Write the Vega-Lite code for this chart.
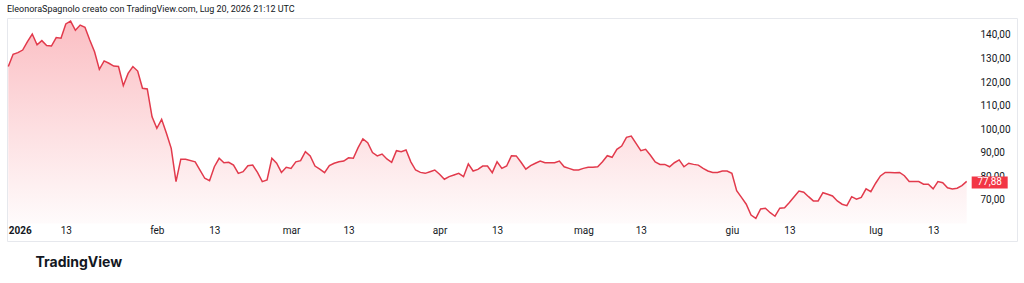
{
  "$schema": "https://vega.github.io/schema/vega-lite/v6.json",
  "width": 1010,
  "height": 223,
  "autosize": {"type": "none"},
  "padding": {"left": 7, "top": 18, "right": 7, "bottom": 42},
  "background": "#ffffff",
  "config": {
    "view": {"stroke": "#e6e8ed", "strokeWidth": 1},
    "font": "Roboto",
    "locale": {"number": {"decimal": ",", "thousands": ".", "grouping": [3], "currency": ["", " €"]}},
    "axis": {"labelOverlap": false}
  },
  "title": {
    "text": "EleonoraSpagnolo creato con TradingView.com, Lug 20, 2026 21:12 UTC",
    "anchor": "start",
    "frame": "group",
    "orient": "top",
    "offset": -5,
    "fontSize": 9,
    "fontWeight": "normal",
    "color": "#131722",
    "font": "Roboto",
    "baseline": "bottom"
  },
  "data": {
    "values": [
      {"date": "2026/01/01", "price": 126.6},
      {"date": "2026/01/02", "price": 131.8},
      {"date": "2026/01/03", "price": 132.5},
      {"date": "2026/01/04", "price": 133.6},
      {"date": "2026/01/05", "price": 137.2},
      {"date": "2026/01/06", "price": 140.4},
      {"date": "2026/01/07", "price": 135.8},
      {"date": "2026/01/08", "price": 137.6},
      {"date": "2026/01/09", "price": 135.5},
      {"date": "2026/01/10", "price": 135.3},
      {"date": "2026/01/11", "price": 138.9},
      {"date": "2026/01/12", "price": 138.6},
      {"date": "2026/01/13", "price": 144.7},
      {"date": "2026/01/14", "price": 145.9},
      {"date": "2026/01/15", "price": 142.0},
      {"date": "2026/01/16", "price": 144.2},
      {"date": "2026/01/17", "price": 143.3},
      {"date": "2026/01/18", "price": 137.9},
      {"date": "2026/01/19", "price": 132.9},
      {"date": "2026/01/20", "price": 125.4},
      {"date": "2026/01/21", "price": 129.0},
      {"date": "2026/01/22", "price": 128.0},
      {"date": "2026/01/23", "price": 126.8},
      {"date": "2026/01/24", "price": 126.6},
      {"date": "2026/01/25", "price": 118.5},
      {"date": "2026/01/26", "price": 123.7},
      {"date": "2026/01/27", "price": 126.6},
      {"date": "2026/01/28", "price": 124.7},
      {"date": "2026/01/29", "price": 117.4},
      {"date": "2026/01/30", "price": 117.1},
      {"date": "2026/01/31", "price": 105.3},
      {"date": "2026/02/01", "price": 100.4},
      {"date": "2026/02/02", "price": 104.2},
      {"date": "2026/02/03", "price": 98.3},
      {"date": "2026/02/04", "price": 91.9},
      {"date": "2026/02/05", "price": 77.8},
      {"date": "2026/02/06", "price": 87.3},
      {"date": "2026/02/07", "price": 87.3},
      {"date": "2026/02/09", "price": 86.2},
      {"date": "2026/02/10", "price": 82.7},
      {"date": "2026/02/11", "price": 79.2},
      {"date": "2026/02/12", "price": 78.2},
      {"date": "2026/02/13", "price": 84.1},
      {"date": "2026/02/14", "price": 87.7},
      {"date": "2026/02/15", "price": 85.8},
      {"date": "2026/02/16", "price": 86.0},
      {"date": "2026/02/17", "price": 84.8},
      {"date": "2026/02/18", "price": 81.3},
      {"date": "2026/02/19", "price": 82.0},
      {"date": "2026/02/20", "price": 84.5},
      {"date": "2026/02/21", "price": 84.8},
      {"date": "2026/02/22", "price": 81.7},
      {"date": "2026/02/23", "price": 77.8},
      {"date": "2026/02/24", "price": 78.5},
      {"date": "2026/02/25", "price": 87.7},
      {"date": "2026/02/26", "price": 85.6},
      {"date": "2026/02/27", "price": 81.7},
      {"date": "2026/02/28", "price": 83.9},
      {"date": "2026/03/01", "price": 83.4},
      {"date": "2026/03/02", "price": 86.2},
      {"date": "2026/03/03", "price": 86.7},
      {"date": "2026/03/04", "price": 90.5},
      {"date": "2026/03/05", "price": 88.7},
      {"date": "2026/03/06", "price": 84.4},
      {"date": "2026/03/07", "price": 83.1},
      {"date": "2026/03/08", "price": 81.6},
      {"date": "2026/03/09", "price": 84.6},
      {"date": "2026/03/10", "price": 85.6},
      {"date": "2026/03/11", "price": 86.2},
      {"date": "2026/03/12", "price": 86.5},
      {"date": "2026/03/13", "price": 87.9},
      {"date": "2026/03/14", "price": 87.7},
      {"date": "2026/03/15", "price": 92.2},
      {"date": "2026/03/16", "price": 95.9},
      {"date": "2026/03/17", "price": 94.3},
      {"date": "2026/03/18", "price": 90.1},
      {"date": "2026/03/19", "price": 88.7},
      {"date": "2026/03/20", "price": 89.5},
      {"date": "2026/03/21", "price": 87.4},
      {"date": "2026/03/22", "price": 86.0},
      {"date": "2026/03/23", "price": 90.9},
      {"date": "2026/03/24", "price": 90.5},
      {"date": "2026/03/25", "price": 91.2},
      {"date": "2026/03/26", "price": 86.2},
      {"date": "2026/03/27", "price": 82.7},
      {"date": "2026/03/28", "price": 81.7},
      {"date": "2026/03/29", "price": 81.3},
      {"date": "2026/03/30", "price": 82.0},
      {"date": "2026/03/31", "price": 82.7},
      {"date": "2026/04/01", "price": 80.9},
      {"date": "2026/04/02", "price": 78.8},
      {"date": "2026/04/03", "price": 79.9},
      {"date": "2026/04/04", "price": 80.6},
      {"date": "2026/04/05", "price": 81.3},
      {"date": "2026/04/06", "price": 79.9},
      {"date": "2026/04/07", "price": 85.3},
      {"date": "2026/04/08", "price": 82.3},
      {"date": "2026/04/09", "price": 83.0},
      {"date": "2026/04/10", "price": 84.4},
      {"date": "2026/04/11", "price": 84.4},
      {"date": "2026/04/12", "price": 81.6},
      {"date": "2026/04/13", "price": 86.2},
      {"date": "2026/04/14", "price": 83.4},
      {"date": "2026/04/15", "price": 84.4},
      {"date": "2026/04/16", "price": 88.8},
      {"date": "2026/04/17", "price": 88.7},
      {"date": "2026/04/18", "price": 86.0},
      {"date": "2026/04/19", "price": 83.1},
      {"date": "2026/04/20", "price": 84.6},
      {"date": "2026/04/21", "price": 85.6},
      {"date": "2026/04/22", "price": 86.5},
      {"date": "2026/04/23", "price": 85.8},
      {"date": "2026/04/24", "price": 85.8},
      {"date": "2026/04/25", "price": 85.8},
      {"date": "2026/04/26", "price": 86.5},
      {"date": "2026/04/27", "price": 84.1},
      {"date": "2026/04/28", "price": 83.4},
      {"date": "2026/04/29", "price": 82.7},
      {"date": "2026/04/30", "price": 82.7},
      {"date": "2026/05/01", "price": 83.4},
      {"date": "2026/05/02", "price": 83.9},
      {"date": "2026/05/03", "price": 83.9},
      {"date": "2026/05/04", "price": 84.1},
      {"date": "2026/05/05", "price": 86.2},
      {"date": "2026/05/06", "price": 88.8},
      {"date": "2026/05/07", "price": 88.1},
      {"date": "2026/05/08", "price": 91.5},
      {"date": "2026/05/09", "price": 92.9},
      {"date": "2026/05/10", "price": 96.6},
      {"date": "2026/05/11", "price": 97.1},
      {"date": "2026/05/12", "price": 94.0},
      {"date": "2026/05/13", "price": 90.9},
      {"date": "2026/05/14", "price": 91.5},
      {"date": "2026/05/15", "price": 89.0},
      {"date": "2026/05/16", "price": 86.1},
      {"date": "2026/05/17", "price": 85.1},
      {"date": "2026/05/18", "price": 85.1},
      {"date": "2026/05/19", "price": 84.1},
      {"date": "2026/05/20", "price": 85.8},
      {"date": "2026/05/21", "price": 87.0},
      {"date": "2026/05/22", "price": 84.1},
      {"date": "2026/05/23", "price": 85.6},
      {"date": "2026/05/24", "price": 85.1},
      {"date": "2026/05/25", "price": 84.8},
      {"date": "2026/05/26", "price": 83.4},
      {"date": "2026/05/27", "price": 82.3},
      {"date": "2026/05/28", "price": 81.7},
      {"date": "2026/05/29", "price": 81.7},
      {"date": "2026/05/30", "price": 82.3},
      {"date": "2026/05/31", "price": 82.3},
      {"date": "2026/06/01", "price": 81.3},
      {"date": "2026/06/02", "price": 73.9},
      {"date": "2026/06/03", "price": 71.1},
      {"date": "2026/06/04", "price": 68.2},
      {"date": "2026/06/05", "price": 63.6},
      {"date": "2026/06/06", "price": 62.2},
      {"date": "2026/06/07", "price": 66.2},
      {"date": "2026/06/08", "price": 66.5},
      {"date": "2026/06/09", "price": 64.6},
      {"date": "2026/06/10", "price": 63.1},
      {"date": "2026/06/11", "price": 66.5},
      {"date": "2026/06/12", "price": 66.7},
      {"date": "2026/06/13", "price": 68.9},
      {"date": "2026/06/14", "price": 71.4},
      {"date": "2026/06/15", "price": 73.8},
      {"date": "2026/06/16", "price": 73.3},
      {"date": "2026/06/17", "price": 71.4},
      {"date": "2026/06/18", "price": 69.6},
      {"date": "2026/06/19", "price": 69.6},
      {"date": "2026/06/20", "price": 73.1},
      {"date": "2026/06/21", "price": 72.4},
      {"date": "2026/06/22", "price": 71.7},
      {"date": "2026/06/23", "price": 69.6},
      {"date": "2026/06/24", "price": 68.2},
      {"date": "2026/06/25", "price": 67.6},
      {"date": "2026/06/26", "price": 71.4},
      {"date": "2026/06/27", "price": 70.3},
      {"date": "2026/06/28", "price": 71.1},
      {"date": "2026/06/29", "price": 74.7},
      {"date": "2026/06/30", "price": 73.5},
      {"date": "2026/07/01", "price": 77.1},
      {"date": "2026/07/02", "price": 80.2},
      {"date": "2026/07/03", "price": 81.7},
      {"date": "2026/07/04", "price": 81.7},
      {"date": "2026/07/05", "price": 81.6},
      {"date": "2026/07/06", "price": 81.7},
      {"date": "2026/07/07", "price": 80.3},
      {"date": "2026/07/08", "price": 77.8},
      {"date": "2026/07/09", "price": 77.8},
      {"date": "2026/07/10", "price": 77.8},
      {"date": "2026/07/11", "price": 76.7},
      {"date": "2026/07/12", "price": 76.7},
      {"date": "2026/07/13", "price": 74.7},
      {"date": "2026/07/14", "price": 77.8},
      {"date": "2026/07/15", "price": 77.3},
      {"date": "2026/07/16", "price": 75.2},
      {"date": "2026/07/17", "price": 74.7},
      {"date": "2026/07/18", "price": 75.0},
      {"date": "2026/07/19", "price": 76.1},
      {"date": "2026/07/20", "price": 77.88}
    ]
  },
  "encoding": {
    "x": {
      "field": "date",
      "type": "temporal",
      "scale": {
        "domain": [
          {"year": 2025, "month": 12, "date": 31, "hours": 17, "minutes": 30},
          {"year": 2026, "month": 7, "date": 30, "hours": 12}
        ]
      },
      "axis": {
        "orient": "bottom",
        "offset": -16,
        "domain": false,
        "ticks": false,
        "tickSize": 0,
        "grid": false,
        "labelPadding": 0,
        "labelFontSize": 10,
        "labelColor": "#131722",
        "labelFont": "Roboto",
        "labelFlush": 10,
        "labelOverlap": false,
        "labelFontWeight": {"condition": {"test": "month(datum.value) == 0 && date(datum.value) == 1", "value": "bold"}, "value": "normal"},
        "values": [
          {"year": 2026, "month": 1, "date": 1},
          {"year": 2026, "month": 1, "date": 13},
          {"year": 2026, "month": 2, "date": 1},
          {"year": 2026, "month": 2, "date": 13},
          {"year": 2026, "month": 3, "date": 1},
          {"year": 2026, "month": 3, "date": 13},
          {"year": 2026, "month": 4, "date": 1},
          {"year": 2026, "month": 4, "date": 13},
          {"year": 2026, "month": 5, "date": 1},
          {"year": 2026, "month": 5, "date": 13},
          {"year": 2026, "month": 6, "date": 1},
          {"year": 2026, "month": 6, "date": 13},
          {"year": 2026, "month": 7, "date": 1},
          {"year": 2026, "month": 7, "date": 13}
        ],
        "labelExpr": "date(datum.value) == 1 ? (month(datum.value) == 0 ? '' + year(datum.value) : ['gen','feb','mar','apr','mag','giu','lug','ago','set','ott','nov','dic'][month(datum.value)]) : '' + date(datum.value)",
        "title": "TradingView",
        "titleFont": "Inter",
        "titleFontSize": 14,
        "titleFontWeight": 700,
        "titleColor": "#131722",
        "titleAnchor": "start",
        "titleAlign": "left",
        "titleBaseline": "middle",
        "titleX": 28,
        "titleY": 37
      }
    },
    "y": {
      "field": "price",
      "type": "quantitative",
      "scale": {"domain": [52.6, 147.2], "zero": false, "nice": false},
      "axis": {
        "orient": "right",
        "offset": -37,
        "domain": false,
        "ticks": false,
        "tickSize": 0,
        "grid": false,
        "labelPadding": 0,
        "labelAlign": "left",
        "labelBaseline": "middle",
        "labelOverlap": false,
        "labelFontSize": 10,
        "labelColor": "#131722",
        "labelFont": "Roboto",
        "values": [70, 80, 90, 100, 110, 120, 130, 140],
        "format": ".2f",
        "title": null
      }
    }
  },
  "layer": [
    {
      "mark": {
        "type": "area",
        "line": false,
        "color": {
          "gradient": "linear",
          "x1": 0, "y1": 0, "x2": 0, "y2": 1,
          "stops": [
            {"offset": 0, "color": "rgba(242,54,69,0.32)"},
            {"offset": 1, "color": "rgba(242,54,69,0.02)"}
          ]
        }
      },
      "encoding": {
        "y2": {"datum": 60}
      }
    },
    {
      "mark": {"type": "line", "color": "#e23a4c", "strokeWidth": 1.5},
      "encoding": {}
    },
    {
      "transform": [{"filter": "datum.price == 77.88"}],
      "mark": {"type": "rect", "color": "#f23645", "width": 36, "height": 12, "xOffset": 23, "yOffset": 1},
      "encoding": {}
    },
    {
      "transform": [{"filter": "datum.price == 77.88"}],
      "mark": {"type": "text", "color": "#ffffff", "fontSize": 10, "font": "Roboto", "dx": 23, "dy": 1, "align": "center", "baseline": "middle"},
      "encoding": {
        "text": {"field": "price", "type": "quantitative", "format": ".2f"}
      }
    }
  ]
}
